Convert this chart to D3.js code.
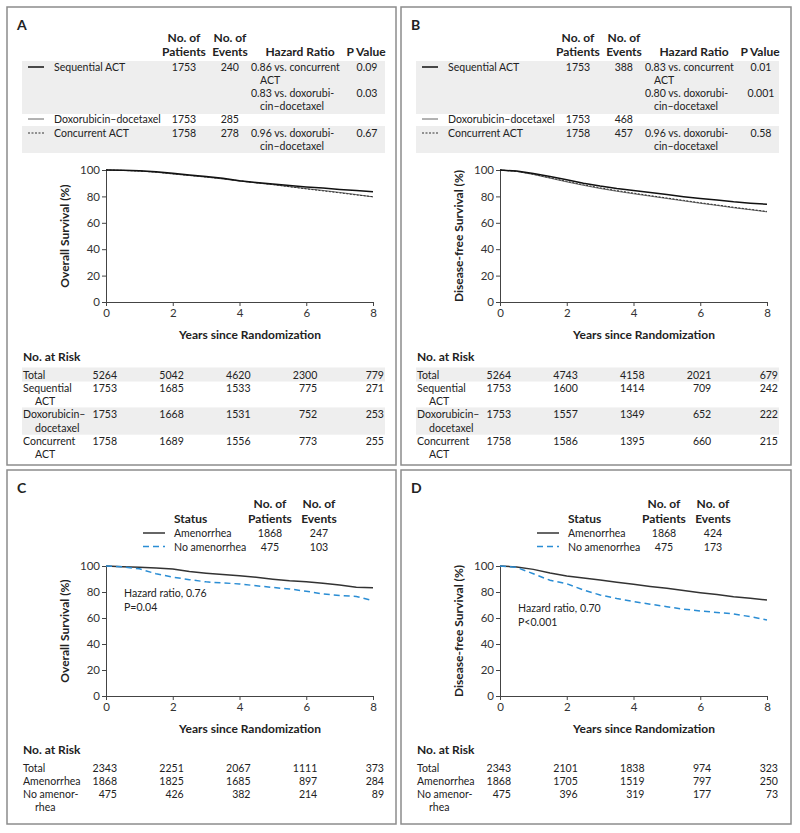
<!DOCTYPE html>
<html lang="en">
<head>
<meta charset="UTF-8">
<title>Survival curves</title>
<script src="https://cdn.jsdelivr.net/npm/d3@7"></script>
<style>
  body { margin: 0; background: #fff; }
  svg { font-family: Lato, "Noto Sans", sans-serif; font-size: 11px; }
  svg text { fill: #222; }
  .axis path, .axis line { stroke: #444; }
  .axis text { font-size: 11.5px; fill: #333; font-family: Lato, "Noto Sans", sans-serif; }
  .b { font-weight: bold; }
</style>
</head>
<body>
<svg width="800" height="833"></svg>
<script>
// ---- data ----
var years = [0, 0.5, 1, 1.5, 2, 2.5, 3, 3.5, 4, 4.5, 5, 5.5, 6, 6.5, 7, 7.5, 8];

// panel A, overall survival (%)
var seqOS  = [100, 99.8, 99.4, 98.7, 97.5, 96.3, 95.1, 93.8, 91.8, 90.6, 89.4, 88.3, 87.2, 86.3, 85.3, 84.4, 83.6];
var doxOS  = [100, 99.7, 99.2, 98.3, 97.0, 95.8, 94.6, 93.2, 91.6, 90.2, 88.9, 87.4, 85.9, 84.5, 83.0, 81.4, 79.6];
var concOS = [100, 99.7, 99.2, 98.4, 97.1, 95.9, 94.7, 93.4, 91.8, 90.3, 89.0, 87.3, 85.7, 84.2, 82.7, 81.1, 79.8];
// panel B, disease-free survival (%)
var seqDFS  = [100, 99.2, 97.3, 95.0, 92.6, 90.0, 87.8, 86.0, 84.5, 83.0, 81.4, 79.8, 78.4, 77.2, 75.9, 74.9, 74.0];
var doxDFS  = [100, 98.9, 96.6, 93.8, 91.0, 88.4, 86.0, 83.9, 82.0, 80.2, 78.4, 76.6, 74.8, 73.2, 71.4, 69.9, 68.3];
var concDFS = [100, 99.0, 96.8, 94.1, 91.4, 88.8, 86.5, 84.4, 82.5, 80.6, 78.8, 77.0, 75.2, 73.5, 71.8, 70.2, 68.6];
// panel C, overall survival by amenorrhea status
var amenOS   = [100, 99.5, 99.0, 98.5, 97.6, 95.8, 94.5, 93.4, 92.5, 91.3, 89.9, 88.7, 87.8, 86.8, 85.4, 83.6, 83.3];
var noAmenOS = [100, 99.3, 97.8, 94.0, 91.4, 89.5, 87.8, 87.0, 86.2, 84.8, 83.5, 82.3, 80.6, 78.5, 77.3, 76.6, 73.3];
// panel D, disease-free survival by amenorrhea status
var amenDFS   = [100, 99.2, 97.4, 94.7, 92.3, 90.7, 89.2, 87.5, 85.9, 84.3, 82.8, 81.1, 79.5, 78.0, 76.4, 75.1, 73.8];
var noAmenDFS = [100, 98.9, 94.0, 89.0, 86.4, 81.5, 77.7, 75.0, 72.6, 70.6, 68.7, 66.8, 65.4, 64.3, 63.1, 61.0, 58.5];

var xTicks = [0, 2, 4, 6, 8];
var yTicks = [0, 20, 40, 60, 80, 100];

// legend tables
var treatments = ["Sequential ACT", "Doxorubicin\u2013docetaxel", "Concurrent ACT"];
var patientsAB = [1753, 1753, 1758];
var eventsA = [240, 285, 278];
var eventsB = [388, 468, 457];
var hazardA = [["0.86 vs. concurrent", "ACT"], ["0.83 vs. doxorubi-", "cin\u2013docetaxel"], ["0.96 vs. doxorubi-", "cin\u2013docetaxel"]];
var hazardB = [["0.83 vs. concurrent", "ACT"], ["0.80 vs. doxorubi-", "cin\u2013docetaxel"], ["0.96 vs. doxorubi-", "cin\u2013docetaxel"]];
var pA = ["0.09", "0.03", "0.67"];
var pB = ["0.01", "0.001", "0.58"];

var statuses = ["Amenorrhea", "No amenorrhea"];
var patientsCD = [1868, 475];
var eventsC = [247, 103];
var eventsD = [424, 173];
var hrC = ["Hazard ratio, 0.76", "P=0.04"];
var hrD = ["Hazard ratio, 0.70", "P<0.001"];

// numbers at risk
var riskLabelsAB = [["Total"], ["Sequential", "ACT"], ["Doxorubicin\u2013", "docetaxel"], ["Concurrent", "ACT"]];
var riskA = [[5264, 5042, 4620, 2300, 779], [1753, 1685, 1533, 775, 271], [1753, 1668, 1531, 752, 253], [1758, 1689, 1556, 773, 255]];
var riskB = [[5264, 4743, 4158, 2021, 679], [1753, 1600, 1414, 709, 242], [1753, 1557, 1349, 652, 222], [1758, 1586, 1395, 660, 215]];
var riskLabelsCD = [["Total"], ["Amenorrhea"], ["No amenor-", "rhea"]];
var riskC = [[2343, 2251, 2067, 1111, 373], [1868, 1825, 1685, 897, 284], [475, 426, 382, 214, 89]];
var riskD = [[2343, 2101, 1838, 974, 323], [1868, 1705, 1519, 797, 250], [475, 396, 319, 177, 73]];

// ---- styles ----
var trtStyle = [
  { stroke: "#111", width: 1.5, dash: null },
  { stroke: "#666", width: 1, dash: null },
  { stroke: "#333", width: 1, dash: "2,1.5" }
];
var ameStyle = [
  { stroke: "#333", width: 1.5, dash: null },
  { stroke: "#2a8dd4", width: 1.5, dash: "6,4" }
];

var svg = d3.select("svg");
var BAND = "#eeeeee";

// size body text so the long label takes about the width it has in the print
var probe = svg.append("text").style("font-size", "10px").text("Doxorubicin\u2013docetaxel");
var fs = 10 * 107 / probe.node().getComputedTextLength();
fs = Math.max(10.5, Math.min(13, fs));
probe.remove();
svg.style("font-size", fs + "px");

function panel(left, top, w, h, letter) {
  var g = svg.append("g").attr("transform", "translate(" + left + "," + top + ")");
  g.append("rect").attr("width", w).attr("height", h)
    .attr("fill", "none").attr("stroke", "#8c8c8c").attr("stroke-width", 1.5);
  g.append("text").attr("class", "b").attr("x", 10).attr("y", 23)
    .style("font-size", "14px").text(letter);
  return g;
}

function sample(g, x1, x2, y, s) {
  g.append("line").attr("x1", x1).attr("x2", x2).attr("y1", y).attr("y2", y)
    .attr("stroke", s.stroke).attr("stroke-width", s.width)
    .attr("stroke-dasharray", s.dash);
}

function plot(g, top, bottom, yTitle, series, styles) {
  var x = d3.scaleLinear().domain([0, 8]).range([99, 366]);
  var y = d3.scaleLinear().domain([0, 100]).range([bottom, top]);

  g.append("g").attr("class", "axis").attr("transform", "translate(0," + bottom + ")")
    .call(d3.axisBottom(x).tickValues(xTicks).tickSize(4).tickSizeOuter(0).tickPadding(3));
  g.append("g").attr("class", "axis").attr("transform", "translate(99,0)")
    .call(d3.axisLeft(y).tickValues(yTicks).tickSize(4).tickSizeOuter(0).tickPadding(2));
  g.selectAll(".axis").attr("font-family", null).attr("font-size", null);

  g.append("text").attr("class", "b").attr("text-anchor", "middle")
    .attr("x", 243).attr("y", bottom + 37).style("font-size", "12px")
    .text("Years since Randomization");
  g.append("text").attr("class", "b").attr("text-anchor", "middle")
    .attr("transform", "translate(62," + (top + bottom) / 2 + ") rotate(-90)")
    .style("font-size", "12px").text(yTitle);

  var line = d3.line().x(function (d, i) { return x(years[i]); }).y(function (d) { return y(d); });
  series.forEach(function (s, i) {
    g.append("path").datum(s).attr("d", line).attr("fill", "none")
      .attr("stroke", styles[i].stroke).attr("stroke-width", styles[i].width)
      .attr("stroke-dasharray", styles[i].dash);
  });
  return x;
}

function riskTable(g, x, top, labels, values, banded) {
  var step = 13.3;
  g.append("text").attr("class", "b").attr("x", 16).attr("y", top).style("font-size", "12px").text("No. at Risk");
  var c = top + 13.5; // centre of first row
  labels.forEach(function (lab, r) {
    if (banded && r % 2 === 0) {
      g.append("rect").attr("x", 15).attr("y", c - 7).attr("width", 363)
        .attr("height", (lab.length - 1) * step + 14).attr("fill", BAND);
    }
    lab.forEach(function (t, k) {
      g.append("text").attr("x", k === 0 ? 16 : 28).attr("y", c + k * step + 4).text(t);
    });
    values[r].forEach(function (v, j) {
      g.append("text").attr("text-anchor", "end").attr("x", x(xTicks[j]) + 11)
        .attr("y", c + 4).text(v);
    });
    c += lab.length * step;
  });
}

function treatmentLegend(g, events, hazard, p) {
  g.append("rect").attr("x", 15).attr("y", 54).attr("width", 363).attr("height", 53).attr("fill", BAND);
  g.append("rect").attr("x", 15).attr("y", 119).attr("width", 363).attr("height", 27).attr("fill", BAND);

  var hd = g.append("g").attr("class", "b").attr("text-anchor", "middle").style("font-size", "12px");
  hd.append("text").attr("x", 177).attr("y", 35).text("No. of");
  hd.append("text").attr("x", 177).attr("y", 49).text("Patients");
  hd.append("text").attr("x", 223).attr("y", 35).text("No. of");
  hd.append("text").attr("x", 223).attr("y", 49).text("Events");
  hd.append("text").attr("x", 293).attr("y", 49).text("Hazard Ratio");
  hd.append("text").attr("x", 359).attr("y", 49).text("P Value");

  var rowY = [64, 116, 130];
  treatments.forEach(function (t, i) {
    sample(g, 21, 37, rowY[i] - 4, trtStyle[i]);
    g.append("text").attr("x", 47).attr("y", rowY[i]).text(t);
    g.append("text").attr("x", 177).attr("y", rowY[i]).attr("text-anchor", "middle").text(patientsAB[i]);
    g.append("text").attr("x", 232).attr("y", rowY[i]).attr("text-anchor", "end").text(events[i]);
  });
  var hzY = [64, 90, 130];
  hazard.forEach(function (h, i) {
    g.append("text").attr("x", 244).attr("y", hzY[i]).text(h[0]);
    g.append("text").attr("x", 253).attr("y", hzY[i] + 13).text(h[1]);
    g.append("text").attr("x", 360).attr("y", hzY[i]).attr("text-anchor", "middle").text(p[i]);
  });
}

function statusLegend(g, events) {
  var hd = g.append("g").attr("class", "b").style("font-size", "12px");
  hd.append("text").attr("x", 167).attr("y", 53).text("Status");
  hd.append("text").attr("x", 263).attr("y", 38).attr("text-anchor", "middle").text("No. of");
  hd.append("text").attr("x", 263).attr("y", 53).attr("text-anchor", "middle").text("Patients");
  hd.append("text").attr("x", 312).attr("y", 38).attr("text-anchor", "middle").text("No. of");
  hd.append("text").attr("x", 312).attr("y", 53).attr("text-anchor", "middle").text("Events");
  statuses.forEach(function (s, i) {
    var yb = 67 + i * 13.5;
    sample(g, 136, 158, yb - 4, ameStyle[i]);
    g.append("text").attr("x", 167).attr("y", yb).text(s);
    g.append("text").attr("x", 263).attr("y", yb).attr("text-anchor", "middle").text(patientsCD[i]);
    g.append("text").attr("x", 312).attr("y", yb).attr("text-anchor", "middle").text(events[i]);
  });
}

function hrNote(g, lines, yb) {
  g.append("text").attr("x", 117).attr("y", yb).text(lines[0]);
  g.append("text").attr("x", 117).attr("y", yb + 14).text(lines[1]);
}

// Panel A
var gA = panel(7, 7, 389, 458, "A");
treatmentLegend(gA, eventsA, hazardA, pA);
var xA = plot(gA, 163, 295, "Overall Survival (%)", [doxOS, concOS, seqOS], [trtStyle[1], trtStyle[2], trtStyle[0]]);
riskTable(gA, xA, 354, riskLabelsAB, riskA, true);

// Panel B
var gB = panel(401, 7, 390, 458, "B");
treatmentLegend(gB, eventsB, hazardB, pB);
var xB = plot(gB, 163, 295, "Disease-free Survival (%)", [doxDFS, concDFS, seqDFS], [trtStyle[1], trtStyle[2], trtStyle[0]]);
riskTable(gB, xB, 354, riskLabelsAB, riskB, true);

// Panel C
var gC = panel(7, 470, 389, 354, "C");
statusLegend(gC, eventsC);
var xC = plot(gC, 96, 226, "Overall Survival (%)", [amenOS, noAmenOS], ameStyle);
hrNote(gC, hrC, 127);
riskTable(gC, xC, 284, riskLabelsCD, riskC, false);

// Panel D
var gD = panel(401, 470, 390, 354, "D");
statusLegend(gD, eventsD);
var xD = plot(gD, 96, 226, "Disease-free Survival (%)", [amenDFS, noAmenDFS], ameStyle);
hrNote(gD, hrD, 142);
riskTable(gD, xD, 284, riskLabelsCD, riskD, false);
</script>
</body>
</html>
